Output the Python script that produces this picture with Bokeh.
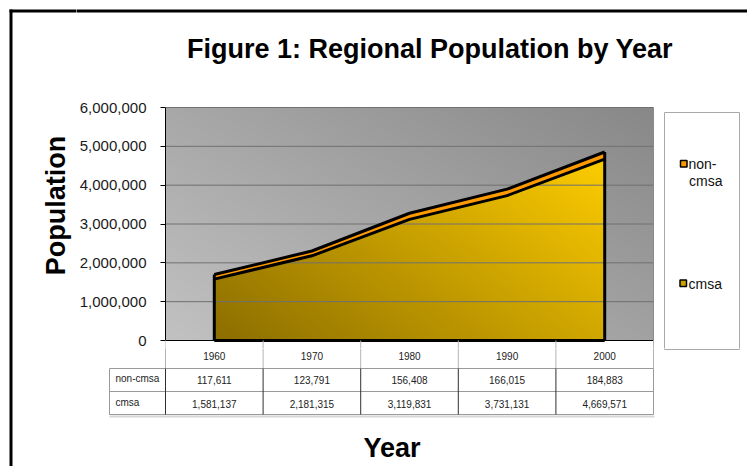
import numpy as np
from bokeh.plotting import figure
from bokeh.layouts import column, row
from bokeh.models import (Label, BoxAnnotation, FixedTicker, NumeralTickFormatter,
                          ColumnDataSource, Range1d)
from bokeh.embed import file_html
from bokeh.resources import INLINE

# ---------------- data ----------------
years = ["1960", "1970", "1980", "1990", "2000"]
non_cmsa = [117611, 123791, 156408, 166015, 184883]
cmsa = [1581137, 2181315, 3119831, 3731131, 4669571]
series_names = ["non-cmsa", "cmsa"]
y_ticks = [0, 1000000, 2000000, 3000000, 4000000, 5000000, 6000000]
title_text = "Figure 1: Regional Population by Year"
x_title = "Year"
y_title = "Population"

# ---------------- layout (canvas pixels) ----------------
W, H = 747, 466
FL, FR, FT, FB = 165, 653, 107, 340     # plot area
SX, TY, BY = 76, 95, 348                 # panel splits
YMIN, YMAX = 0, 6000000
FONT = "Liberation Sans"
n = len(years)
COLW = (FR - FL) / n


def cx(px):  # canvas x -> category units
    return -0.5 + (px - FL) / COLW


def vy(py):  # canvas y -> population units
    return YMIN + (FB - py) * (YMAX - YMIN) / (FB - FT)


def ident(py):
    return py


def make_fig(w, h, xr, yr, **kw):
    f = figure(width=w, height=h, x_range=xr, y_range=yr, output_backend="svg",
               toolbar_location=None, min_border=0, **kw)
    f.background_fill_color = "white"
    f.border_fill_color = "white"
    f.outline_line_color = None
    try:
        f.frame_align = False
    except Exception:
        pass
    return f


L = make_fig(SX, H, Range1d(cx(0), cx(SX)), Range1d(H, 0),
             x_axis_location=None, y_axis_location=None)
T = make_fig(W - SX, TY, Range1d(cx(SX), cx(W)), Range1d(TY, 0),
             x_axis_location=None, y_axis_location=None)
C = make_fig(W - SX, BY - TY, Range1d(cx(FL), cx(W)), Range1d(vy(BY), vy(TY)),
             x_axis_location=None, y_axis_location="left")
C.min_border_left = FL - SX
B = make_fig(W - SX, H - BY, Range1d(cx(SX), cx(W)), Range1d(H, BY),
             x_axis_location=None, y_axis_location=None)
for f in (T, L, C, B):
    f.xgrid.visible = False
    f.ygrid.visible = False

# (figure, y-mapping, drawable region x0, x1, y0, y1 in canvas px)
figs = [(L, ident, 0, SX, 0, H), (T, ident, SX, W, 0, TY),
        (C, vy, FL, W, TY, BY), (B, ident, SX, W, BY, H)]

# y axis of main chart
ax = C.yaxis[0]
ax.ticker = FixedTicker(ticks=y_ticks)
ax.bounds = (YMIN, YMAX)
ax.formatter = NumeralTickFormatter(format="0,0")
ax.major_label_text_font = FONT
ax.major_label_text_font_size = "15px"
ax.major_label_text_color = "#1a1a1a"
ax.major_tick_out = 5
ax.major_tick_in = 0
ax.minor_tick_line_color = None
ax.major_label_standoff = 14
ax.axis_line_color = "black"
ax.major_tick_line_color = "black"


# ---------------- decoration helpers ----------------
def rect(x0, x1, y0, y1, fill, line=None, lw=1):
    for f, my, a0, a1, b0, b1 in figs:
        if x1 < a0 - 3 or x0 > a1 + 3 or y1 < b0 - 3 or y0 > b1 + 3:
            continue
        f.add_layout(BoxAnnotation(left=cx(x0), right=cx(x1), top=my(y0), bottom=my(y1),
                                   fill_color=fill if fill else "white", fill_alpha=1 if fill else 0,
                                   line_color=line if line else "white", line_width=lw,
                                   line_alpha=1 if line else 0))


def hline(x0, x1, y, color, w=1):
    rect(x0, x1, y - w / 2, y + w / 2, color)


def vline(x, y0, y1, color, w=1):
    rect(x - w / 2, x + w / 2, y0, y1, color)


def label(text, px, py, size, align="center", base="middle", bold=False, color="#111111",
          angle=0.0, xd=None):
    for f, my, a0, a1, b0, b1 in figs:
        if a0 <= px < a1 and b0 <= py < b1:
            f.add_layout(Label(x=cx(px) if xd is None else xd, y=my(py), text=text,
                               text_font=FONT, text_font_size=size,
                               text_font_style="bold" if bold else "normal",
                               text_align=align, text_baseline=base, text_color=color,
                               angle=angle))
            break


# ---------------- gradient background + cmsa gradient fill ----------------
idx = np.arange(n)
total = [a + b for a, b in zip(cmsa, non_cmsa)]
nx, ny = (FR - FL) * 2, (FB - FT) * 2
xs = -0.5 + (np.arange(nx) + 0.5) * n / nx
ys = YMIN + (np.arange(ny) + 0.5) * (YMAX - YMIN) / ny
GX, GY = np.meshgrid(xs, ys)
xn = (GX + 0.5) / n
yn = (GY - YMIN) / (YMAX - YMIN)
gray = 194 - 32 * xn - 26 * yn
img = np.zeros((ny, nx, 4), dtype=np.uint8)
img[..., 0] = gray
img[..., 1] = gray
img[..., 2] = gray
img[..., 3] = 255
edge = np.interp(GX, idx, cmsa)
inside = (GX >= idx[0]) & (GX <= idx[-1]) & (GY <= edge)
t = np.clip(0.6 * (GX - idx[0]) / (idx[-1] - idx[0]) + 0.4 * GY / max(total), 0, 1)
dark = np.array([140, 110, 0])
bright = np.array([255, 206, 0])
for c in range(3):
    ch = dark[c] + (bright[c] - dark[c]) * t
    img[..., c] = np.where(inside, ch, img[..., c])
C.image_rgba(image=[img.view(np.uint32).reshape(ny, nx)], x=-0.5, y=YMIN, dw=n, dh=YMAX - YMIN)

# grid lines
C.segment(x0=[-0.5] * (len(y_ticks) - 1), x1=[n - 0.5] * (len(y_ticks) - 1),
          y0=y_ticks[1:], y1=y_ticks[1:], line_color="#707070", line_width=1)

# areas
src = ColumnDataSource(dict(x=idx, cmsa=cmsa, total=total))
C.varea(x="x", y1="cmsa", y2="total", source=src, fill_color="#ff9900")
C.line(x="x", y="cmsa", source=src, line_color="black", line_width=3, line_join="round")
C.line(x="x", y="total", source=src, line_color="black", line_width=3, line_join="round")
C.segment(x0=[idx[0], idx[-1], idx[0]], y0=[0, 0, 0],
          x1=[idx[0], idx[-1], idx[-1]], y1=[total[0], total[-1], 0],
          line_color="black", line_width=3)

# plot area edges
hline(FL, FR, FB, "black", 1)
vline(FR, FT, FB, "#8a8a8a", 1)

# outer border
hline(9, W + 5, 10.5, "black", 3)
vline(10.5, 9, H + 5, "black", 3)

# titles
label(title_text, 429.5, 48, "27px", base="alphabetic", bold=True, color="black")
label(y_title, 55, 205, "27px", base="alphabetic", bold=True, color="black", angle=np.pi / 2)
label(x_title, 391.5, 447, "27px", base="alphabetic", bold=True, color="black")

# ---------------- data table ----------------
hline(109, FR, 368, "#9a9a9a")
hline(109, FR, 391, "#9a9a9a")
hline(109, FR, 414, "#9a9a9a")
hline(109, FR + 1, 416, "#d6d6d6", 2)
vline(109, 368, 414, "#9a9a9a")
for k in range(n + 1):
    xk = FL + k * COLW
    vline(xk, FB, 368, "#b4b4b4")
    vline(xk, 368, 414, "#9a9a9a" if k == n else "#303030")

label(series_names[0], 115, 378, "10px", align="left", color="#222222")
label(series_names[1], 115, 402, "10px", align="left", color="#222222")
for i, yr in enumerate(years):
    px = FL + (i + 0.5) * COLW
    label(yr, px, 355, "10px", color="#222222", xd=float(idx[i]))
    label(f"{non_cmsa[i]:,}", px, 379, "10px", color="#222222", xd=float(idx[i]))
    label(f"{cmsa[i]:,}", px, 403, "10px", color="#222222", xd=float(idx[i]))

# ---------------- legend ----------------
rect(664, 739, 112, 349, "white", line="#a8a8a8", lw=1)
rect(680, 686.5, 160, 166.5, "#ff9900", line="black", lw=1.5)
rect(679.5, 686, 279.5, 286, "#c9a200", line="black", lw=1.5)
label("non-", 688, 163, "14px", align="left", color="#111111")
label("cmsa", 688.5, 180, "14px", align="left", color="#111111")
label(series_names[1], 688, 283, "14px", align="left", color="#111111")

layout = row(L, column(T, C, B, spacing=0), spacing=0)
open("out.html", "w").write(file_html(layout, INLINE))
